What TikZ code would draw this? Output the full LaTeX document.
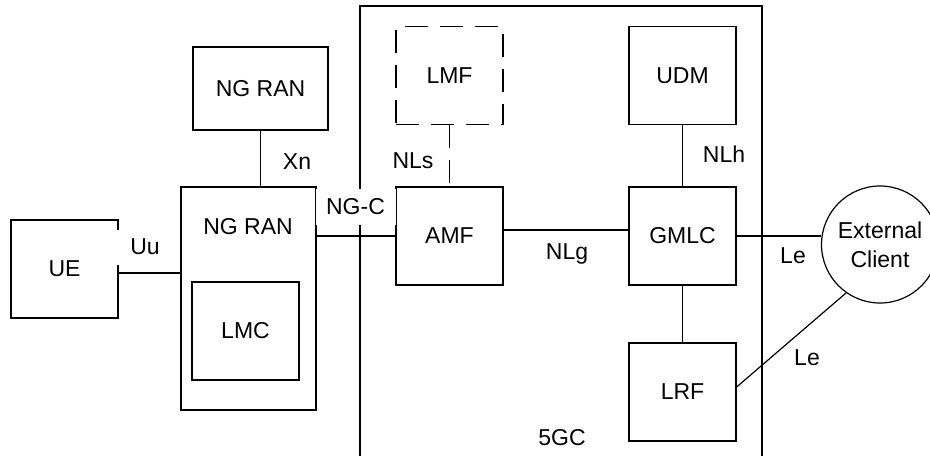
\documentclass[tikz,border=0pt]{standalone}
\usepackage{fontspec}
\setmainfont{Liberation Sans}
\begin{document}
\begin{tikzpicture}[x=0.5pt,y=-0.5pt, line width=0.6pt,
  font=\fontsize{11.5}{14.5}\selectfont,
  box/.style={draw, minimum width=53.5pt, minimum height=49pt, inner sep=0pt},
  dashbox/.style={box, dash pattern=on 11.5pt off 6pt},
  lbl/.style={inner sep=0pt},
  gaplbl/.style={fill=white, inner sep=0pt}]
\useasboundingbox (0,0) rectangle (930,456);
% boxes
\node[box] (ue) at (64.5,269) {UE};
\node[box, minimum width=67.5pt, minimum height=41.5pt] (ran1) at (260.5,88.5) {NG RAN};
\node[box, minimum width=67.5pt, minimum height=111.5pt] (ran2) at (248.5,298.5) {};
\node[lbl] (ran2t) at (248,227) {NG RAN};
\node[box] (lmc) at (245.5,331) {LMC};
% 5GC frame
\coordinate (c5a) at (360,456);
\coordinate (c5b) at (360,6);
\coordinate (c5c) at (762,6);
\coordinate (c5d) at (762,456);
\draw (c5a) -- (c5b) -- (c5c) -- (c5d);
\node[dashbox] (lmf) at (449.5,75.5) {LMF};
\node[box] (amf) at (449.5,236) {AMF};
\node[box] (udm) at (682.5,75.5) {UDM};
\node[box] (gmlc) at (682.5,236) {GMLC};
\node[box] (lrf) at (682.5,392) {LRF};
\node[draw, circle, minimum size=58.5pt, inner sep=0pt, align=center] (ext) at (880,244.5) {External\\Client};
% labels covering lines
\node[gaplbl, minimum width=28pt, minimum height=17.5pt] (uu) at (145,247) {Uu};
\node[gaplbl, minimum width=40pt, minimum height=18pt] (ngc) at (355.5,206.5) {NG-C};
% connectors
\draw ([yshift=-2pt]ue.east) -- ([yshift=-2pt]ue.east -| ran2.west);
\draw (ran1.south) -- (ran1.south |- ran2.north);
\draw (amf.west -| ran2.east) -- (amf.west);
\draw[dash pattern=on 11.5pt off 6pt] (lmf.south) -- (amf.north);
\draw ([yshift=3pt]amf.east) -- ([yshift=3pt]gmlc.west);
\draw (udm.south) -- (gmlc.north);
\draw (gmlc.south) -- (lrf.north);
\draw (gmlc.east) -- (gmlc.east -| ext.west);
\draw ([yshift=2.5pt]lrf.east) -- (ext.235);
% other labels
\node[lbl] (xn) at (297,162) {Xn};
\node[lbl] (nls) at (413,161) {NLs};
\node[lbl] (nlh) at (724,154) {NLh};
\node[lbl] (nlg) at (567,254) {NLg};
\node[lbl] (le1) at (793,256) {Le};
\node[lbl] (le2) at (807,358) {Le};
\node[lbl] (fivegc) at (562,438) {5GC};
\end{tikzpicture}
\end{document}
